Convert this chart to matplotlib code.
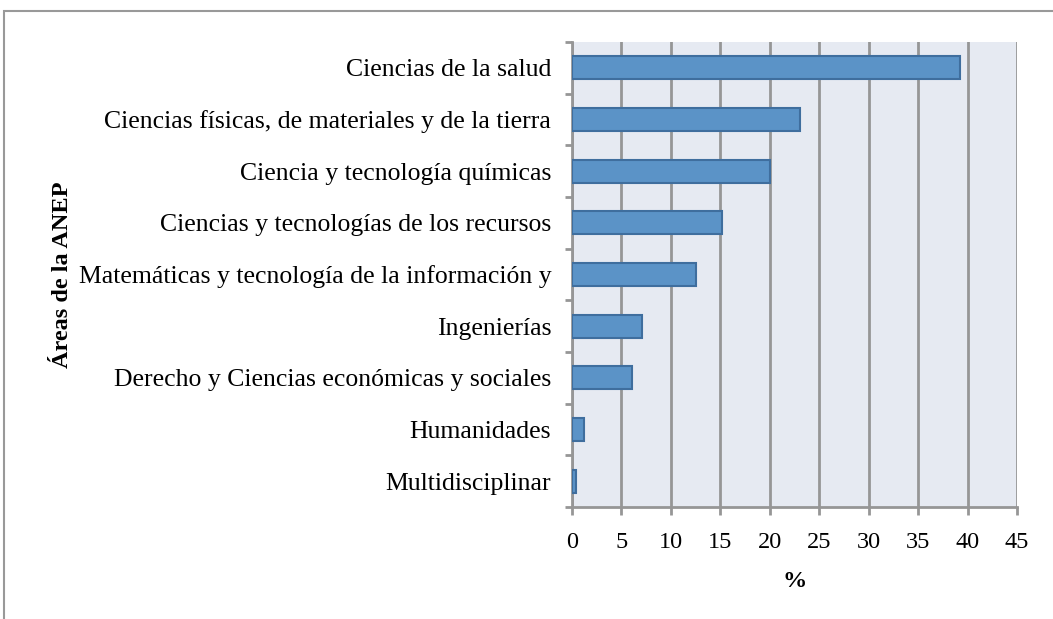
import matplotlib.pyplot as plt
from matplotlib.patches import Rectangle

# datos (%) por área ANEP
areas = ['Ciencias de la salud',
         'Ciencias físicas, de materiales y de la tierra',
         'Ciencia y tecnología químicas',
         'Ciencias y tecnologías de los recursos',
         'Matemáticas y tecnología de la información y',
         'Ingenierías',
         'Derecho y Ciencias económicas y sociales',
         'Humanidades',
         'Multidisciplinar']
valores = [39.2, 23.1, 20.0, 15.2, 12.5, 7.1, 6.1, 1.2, 0.45]
xticks = [0, 5, 10, 15, 20, 25, 30, 35, 40, 45]

plt.rcParams['font.family'] = ['Liberation Serif', 'DejaVu Serif']

fig = plt.figure(figsize=(10.53, 6.19), dpi=100)
ax = fig.add_axes([572/1053, 1-507/619, (1017-572)/1053, (507-42)/619])

n = len(areas)
pos = list(range(n))[::-1]
ax.barh(pos, valores, height=0.44, color='#5B93C7', edgecolor='#3F6E9E', linewidth=1.5, zorder=3)

ax.set_facecolor('#E6EAF2')
ax.set_xlim(0, 45)
ax.set_ylim(-0.5, n - 0.5)
ax.set_xticks(xticks)
ax.set_xticklabels([str(t) for t in xticks], fontsize=17.5)
ax.xaxis.grid(True, color='#969696', linewidth=2, zorder=1)

# etiquetas centradas, ticks en los límites de categoría
ax.set_yticks(pos)
ax.set_yticklabels(areas, fontsize=18.5)
ax.tick_params(axis='y', length=0, pad=15)
ax.set_yticks([p - 0.5 for p in range(n + 1)], minor=True)
ax.tick_params(axis='y', which='minor', length=5, width=2, color='#969696')
ax.tick_params(axis='x', length=6, width=2, color='#969696', pad=12)

for s in ['top', 'right']:
    ax.spines[s].set_visible(False)
for s in ['left', 'bottom']:
    ax.spines[s].set_color('#969696')
    ax.spines[s].set_linewidth(2)

ax.set_xlabel('%', fontsize=17.5, fontweight='bold', labelpad=13)
fig.text(62/1053, 1-275/619, 'Áreas de la ANEP', rotation=90, fontsize=17.5,
         fontweight='bold', ha='center', va='center')

# marco exterior
fig.patches.append(Rectangle((4/1053, -0.1), 1.2, 1.1 - 11/619, transform=fig.transFigure,
                             fill=False, edgecolor='#999999', linewidth=1.5))

fig.savefig('out.png', dpi=100)
